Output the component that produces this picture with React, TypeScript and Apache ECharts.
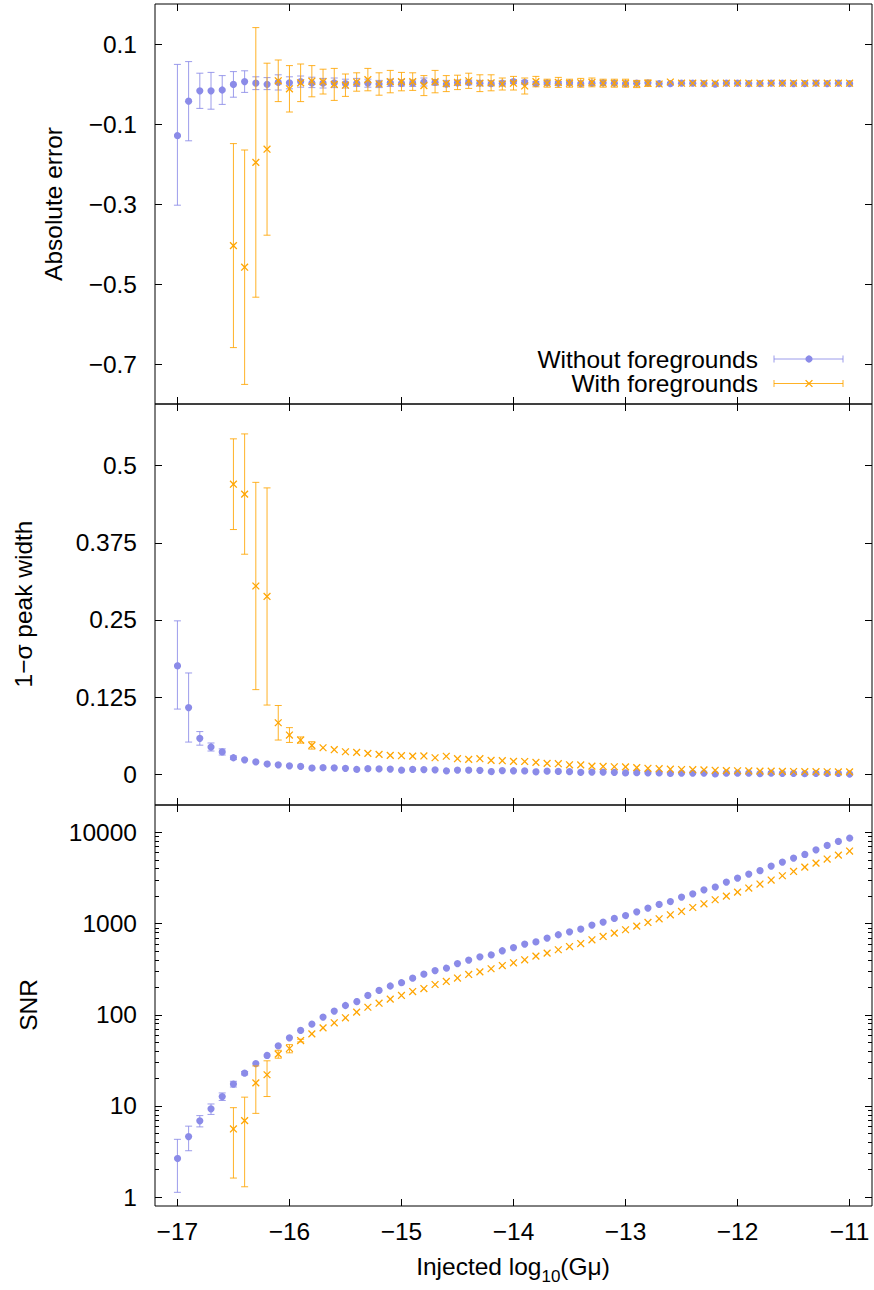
import { useEffect, useRef } from "react";
import * as echarts from "echarts";

// ---------- data ----------
const xValues = [
  -17.0, -16.9, -16.8, -16.7, -16.6, -16.5, -16.4, -16.3, -16.2, -16.1,
  -16.0, -15.9, -15.8, -15.7, -15.6, -15.5, -15.4, -15.3, -15.2, -15.1,
  -15.0, -14.9, -14.8, -14.7, -14.6, -14.5, -14.4, -14.3, -14.2, -14.1,
  -14.0, -13.9, -13.8, -13.7, -13.6, -13.5, -13.4, -13.3, -13.2, -13.1,
  -13.0, -12.9, -12.8, -12.7, -12.6, -12.5, -12.4, -12.3, -12.2, -12.1,
  -12.0, -11.9, -11.8, -11.7, -11.6, -11.5, -11.4, -11.3, -11.2, -11.1,
  -11.0,
];

// Panel 1: absolute error
const absErrNoFg = [
  -0.127, -0.043, -0.017, -0.017, -0.015, -0.001, 0.006, 0.002, 0.001, 0.004,
  0.003, 0.006, 0.004, 0.002, 0.003, 0.001, 0.004, 0.002, 0.0, 0.003,
  0.003, 0.002, 0.005, 0.004, 0.002, 0.003, 0.004, 0.002, 0.003, 0.002,
  0.006, 0.004, 0.002, 0.003, 0.002, 0.003, 0.002, 0.002, 0.003, 0.002,
  0.002, 0.002, 0.003, 0.001, 0.002, 0.002, 0.002, 0.001, 0.002, 0.002,
  0.002, 0.001, 0.002, 0.002, 0.002, 0.001, 0.002, 0.002, 0.001, 0.002,
  0.002,
];
const absErrNoFgSigma = [
  0.176, 0.099, 0.044, 0.046, 0.036, 0.032, 0.027, 0.016, 0.015, 0.019,
  0.015, 0.014, 0.013, 0.012, 0.012, 0.011, 0.01, 0.01, 0.009, 0.009,
  0.008, 0.008, 0.01, 0.007, 0.007, 0.006, 0.006, 0.006, 0.005, 0.005,
  0.005, 0.005, 0.004, 0.004, 0.004, 0.004, 0.003, 0.003, 0.003, 0.003,
  0.003, 0.002, 0.002, 0.002, 0.002, 0.002, 0.002, 0.002, 0.002, 0.002,
  0.001, 0.001, 0.001, 0.001, 0.001, 0.001, 0.001, 0.001, 0.001, 0.001,
  0.001,
];
const absErrFg = [
  null, null, null, null, null, -0.404, -0.458, -0.196, -0.163, 0.008,
  -0.012, 0.003, 0.007, 0.006, -0.001, -0.003, 0.005, 0.011, 0.0, 0.006,
  0.006, 0.006, -0.004, 0.006, 0.001, 0.004, 0.008, 0.002, 0.003, 0.0,
  0.002, -0.005, 0.006, 0.002, 0.004, 0.002, 0.003, 0.004, 0.002, 0.002,
  0.002, 0.0, 0.002, 0.0, 0.005, 0.002, 0.002, 0.002, 0.002, 0.002,
  0.002, 0.002, 0.002, 0.002, 0.002, 0.002, 0.002, 0.002, 0.002, 0.002,
  0.002,
];
const absErrFgSigma = [
  null, null, null, null, null, 0.255, 0.293, 0.337, 0.215, 0.052,
  0.058, 0.047, 0.039, 0.031, 0.04, 0.028, 0.023, 0.028, 0.028, 0.028,
  0.023, 0.022, 0.025, 0.028, 0.02, 0.018, 0.019, 0.021, 0.02, 0.015,
  0.017, 0.02, 0.013, 0.01, 0.0125, 0.01, 0.011, 0.011, 0.01, 0.01,
  0.01, 0.009, 0.008, 0.003, 0.003, 0.003, 0.002, 0.002, 0.002, 0.002,
  0.002, 0.002, 0.002, 0.002, 0.002, 0.002, 0.002, 0.002, 0.002, 0.002,
  0.002,
];

// Panel 2: 1-sigma peak width
const widthNoFg = [
  0.177, 0.108, 0.058, 0.044, 0.036, 0.0266, 0.0233, 0.02, 0.018, 0.0152,
  0.0136, 0.0126, 0.0115, 0.0104, 0.0102, 0.0094, 0.0092, 0.0088, 0.0085, 0.0082,
  0.0078, 0.0077, 0.0075, 0.0071, 0.007, 0.0066, 0.0065, 0.0063, 0.006, 0.0058,
  0.0055, 0.0053, 0.005, 0.0048, 0.0044, 0.004, 0.0039, 0.0034, 0.0033, 0.0029,
  0.0027, 0.0023, 0.0021, 0.002, 0.0019, 0.0018, 0.0018, 0.0017, 0.0017, 0.0016,
  0.0016, 0.0015, 0.0015, 0.0015, 0.0014, 0.0014, 0.0014, 0.0013, 0.0013, 0.0013,
  0.0012,
];
const widthNoFgSigma = [
  0.0715, 0.056, 0.011, 0.0065, 0.005, 0.003, 0.002, 0.0015, 0.001, 0.001,
  0.001, 0.001, 0.001, 0.001, 0.001, 0.001, 0.001, 0.001, 0.001, 0.001,
  0.0008, 0.0008, 0.0008, 0.0008, 0.0008, 0.0008, 0.0008, 0.0008, 0.0008, 0.0008,
  0.0006, 0.0006, 0.0006, 0.0006, 0.0006, 0.0006, 0.0006, 0.0006, 0.0006, 0.0006,
  0.0005, 0.0005, 0.0005, 0.0005, 0.0005, 0.0005, 0.0005, 0.0005, 0.0005, 0.0005,
  0.0004, 0.0004, 0.0004, 0.0004, 0.0004, 0.0004, 0.0004, 0.0004, 0.0004, 0.0004,
  0.0004,
];
const widthFg = [
  null, null, null, null, null, 0.47, 0.454, 0.305, 0.288, 0.0833,
  0.0634, 0.0553, 0.0466, 0.0428, 0.0396, 0.0363, 0.0353, 0.0337, 0.032, 0.0304,
  0.0299, 0.0293, 0.0295, 0.0266, 0.029, 0.025, 0.0239, 0.025, 0.0223, 0.0218,
  0.0207, 0.0205, 0.019, 0.0174, 0.0169, 0.0152, 0.015, 0.0131, 0.0125, 0.012,
  0.0118, 0.0105, 0.0095, 0.0088, 0.008, 0.0075, 0.0072, 0.0068, 0.0063, 0.0058,
  0.0055, 0.0052, 0.005, 0.0048, 0.0045, 0.0043, 0.004, 0.004, 0.0038, 0.0037,
  0.0036,
];
const widthFgSigma = [
  null, null, null, null, null, 0.0735, 0.0975, 0.168, 0.176, 0.028,
  0.012, 0.005, 0.006, 0.002, 0.0015, 0.0015, 0.0015, 0.001, 0.001, 0.001,
  0.001, 0.001, 0.001, 0.001, 0.001, 0.001, 0.001, 0.001, 0.001, 0.001,
  0.0008, 0.0008, 0.0008, 0.0008, 0.0008, 0.0008, 0.0008, 0.0008, 0.0008, 0.0008,
  0.0006, 0.0006, 0.0006, 0.0006, 0.0006, 0.0006, 0.0006, 0.0006, 0.0006, 0.0006,
  0.0005, 0.0005, 0.0005, 0.0005, 0.0005, 0.0005, 0.0005, 0.0005, 0.0005, 0.0005,
  0.0005,
];

// Panel 3: SNR
const snrNoFg = [
  2.72, 4.62, 6.87, 9.3, 12.7, 17.4, 22.9, 29.2, 36.4, 45.7,
  56.0, 67.3, 80.4, 94.4, 109.9, 126.5, 143.6, 163, 185, 207,
  230, 252, 279, 306, 334, 365, 398, 433, 467, 504,
  547, 597, 637, 694, 755, 814, 885, 964, 1040, 1140,
  1241, 1349, 1482, 1622, 1767, 1956, 2125, 2351, 2582, 2857,
  3162, 3497, 3868, 4277, 4730, 5236, 5836, 6457, 7198, 7966,
  8817,
];
const snrNoFgSigma = [
  1.59, 1.39, 0.97, 1.22, 1.2, 1.25, 1.0, 0.8, 0.8, 0.8,
  0.9, 0.9, 1.0, 1.0, 1.1, 1.1, 1.2, 1.2, 1.3, 1.3,
  1.4, 1.4, 1.5, 1.5, 1.6, 1.6, 1.7, 1.7, 1.8, 1.8,
  1.9, 1.9, 2.0, 2.0, 2.1, 2.1, 2.2, 2.2, 2.3, 2.3,
  2.4, 2.4, 2.5, 2.5, 2.6, 2.6, 2.7, 2.7, 2.8, 2.8,
  2.9, 2.9, 3.0, 3.0, 3.1, 3.1, 3.2, 3.2, 3.3, 3.3,
  3.4,
];
const snrFg = [
  null, null, null, null, null, 5.6, 6.9, 17.9, 22.0, 37.1,
  42.7, 52.2, 61.8, 71.9, 81.7, 92.7, 107, 121, 134, 148.6,
  163, 180, 194, 215, 232, 253, 277, 296, 320, 347,
  372, 401, 440, 475, 517, 561, 605, 665, 723, 787,
  857, 940, 1030, 1130, 1250, 1359, 1503, 1651, 1827, 2005,
  2218, 2455, 2716, 3005, 3350, 3733, 4169, 4615, 5106, 5648,
  6252,
];
const snrFgSigma = [
  null, null, null, null, null, 3.98, 5.6, 9.6, 9.3, 3.7,
  4.4, 1.8, 1.5, 1.4, 1.4, 1.5, 1.5, 1.6, 1.6, 1.7,
  1.7, 1.8, 1.8, 1.9, 1.9, 2.0, 2.0, 2.1, 2.1, 2.2,
  2.2, 2.3, 2.3, 2.4, 2.4, 2.5, 2.5, 2.6, 2.6, 2.7,
  2.7, 2.8, 2.8, 2.9, 2.9, 3.0, 3.0, 3.1, 3.1, 3.2,
  3.2, 3.3, 3.3, 3.4, 3.4, 3.5, 3.5, 3.6, 3.6, 3.7,
  3.7,
];

// ticks
const xTicks = [-17, -16, -15, -14, -13, -12, -11];
const absTicks = [0.1, -0.1, -0.3, -0.5, -0.7];
const widthTicks = [0, 0.125, 0.25, 0.375, 0.5];
const snrTicks = [1, 10, 100, 1000, 10000];
const snrMinorTicks = [
  2, 3, 4, 5, 6, 7, 8, 9,
  20, 30, 40, 50, 60, 70, 80, 90,
  200, 300, 400, 500, 600, 700, 800, 900,
  2000, 3000, 4000, 5000, 6000, 7000, 8000, 9000,
];

const legendLabels = ["Without foregrounds", "With foregrounds"];

// ---------- style ----------
const PURPLE = "#8b8be8";
const ORANGE = "#ffa500";
const FONT = "'Liberation Sans', Arial, Helvetica, sans-serif";
const FS = 24.5;
const X_MIN = -17.2;
const X_MAX = -10.8;
const SNR_MIN = 0.8;
const SNR_MAX = 20000;

function minusFmt(v: number): string {
  const r = Math.round(v * 1000) / 1000;
  const s = String(Math.abs(r));
  return r < 0 ? "\u2212" + s : s;
}

function buildSeries(
  vals: (number | null)[],
  sig: (number | null)[],
  color: string,
  kind: "circle" | "cross",
  xIdx: number,
  yIdx: number,
  logY: boolean
) {
  const data: number[][] = [];
  xValues.forEach((x, i) => {
    const v = vals[i];
    if (v == null) return;
    const s = sig[i] ?? 0;
    if (logY) {
      data.push([x, Math.log10(v), Math.log10(Math.max(v - s, 1e-3)), Math.log10(v + s)]);
    } else {
      data.push([x, v, v - s, v + s]);
    }
  });
  return {
    type: "custom",
    xAxisIndex: xIdx,
    yAxisIndex: yIdx,
    data,
    clip: true,
    silent: true,
    z: kind === "cross" ? 4 : 3,
    encode: { x: 0, y: 1 },
    renderItem: (_params: any, api: any) => {
      const x = api.value(0);
      const y = api.value(1);
      const lo = api.value(2);
      const hi = api.value(3);
      const p = api.coord([x, y]);
      const pl = api.coord([x, lo]);
      const ph = api.coord([x, hi]);
      const cx = p[0];
      const cy = p[1];
      const children: any[] = [];
      if (Math.abs(pl[1] - ph[1]) > 2.5) {
        const ls = { stroke: color, lineWidth: 1, opacity: 0.85 };
        const c = 3.5;
        children.push({ type: "line", shape: { x1: cx, y1: pl[1], x2: cx, y2: ph[1] }, style: ls });
        children.push({ type: "line", shape: { x1: cx - c, y1: pl[1], x2: cx + c, y2: pl[1] }, style: ls });
        children.push({ type: "line", shape: { x1: cx - c, y1: ph[1], x2: cx + c, y2: ph[1] }, style: ls });
      }
      if (kind === "circle") {
        children.push({ type: "circle", shape: { cx, cy, r: 3.6 }, style: { fill: color } });
      } else {
        const d = 3.4;
        const cs = { stroke: color, lineWidth: 1.3 };
        children.push({ type: "line", shape: { x1: cx - d, y1: cy - d, x2: cx + d, y2: cy + d }, style: cs });
        children.push({ type: "line", shape: { x1: cx - d, y1: cy + d, x2: cx + d, y2: cy - d }, style: cs });
      }
      return { type: "group", children };
    },
  };
}

const GRID_LEFT = 155;
const GRID_W = 717;
const panels = [
  { top: 4, height: 400 },
  { top: 404, height: 401 },
  { top: 805, height: 401 },
];

function tickAxis(base: any, custom: number[], len: number) {
  return {
    ...base,
    axisLine: { show: false, onZero: false },
    splitLine: { show: false },
    axisTick: {
      show: true,
      inside: true,
      length: len,
      customValues: custom,
      lineStyle: { color: "#000", width: 1 },
    },
  };
}

const labelStyle = { fontSize: FS, color: "#000", fontFamily: FONT };

export default function App() {
  const ref = useRef<HTMLDivElement>(null);

  useEffect(() => {
    if (!ref.current) return;
    const chart = echarts.init(ref.current, undefined, { renderer: "svg" });

    const grid = panels.map((p) => ({
      left: GRID_LEFT,
      top: p.top,
      width: GRID_W,
      height: p.height,
      show: true,
      borderColor: "#000",
      borderWidth: 1,
      backgroundColor: "transparent",
      containLabel: false,
      outerBoundsMode: "none",
    }));

    const xAxis: any[] = [];
    panels.forEach((_p, g) => {
      xAxis.push(
        tickAxis(
          {
            gridIndex: g,
            type: "value",
            min: X_MIN,
            max: X_MAX,
            position: "bottom",
            axisLabel: {
              show: g === 2,
              customValues: xTicks,
              formatter: (v: number) => minusFmt(v),
              margin: 13,
              ...labelStyle,
            },
          },
          xTicks,
          7
        )
      );
      xAxis.push(
        tickAxis(
          { gridIndex: g, type: "value", min: X_MIN, max: X_MAX, position: "top", axisLabel: { show: false } },
          xTicks,
          7
        )
      );
    });

    const snrLog = snrTicks.map((v) => Math.log10(v));
    const snrMinorLog = snrMinorTicks.map((v) => Math.log10(v));
    const yDefs = [
      { g: 0, min: -0.8, max: 0.2, ticks: absTicks, fmt: (v: number) => minusFmt(v) },
      { g: 1, min: -0.05, max: 0.6, ticks: widthTicks, fmt: (v: number) => minusFmt(v) },
      {
        g: 2,
        min: Math.log10(SNR_MIN),
        max: Math.log10(SNR_MAX),
        ticks: snrLog,
        fmt: (v: number) => String(Math.round(Math.pow(10, v))),
      },
    ];
    const yAxis: any[] = [];
    yDefs.forEach((d) => {
      yAxis.push(
        tickAxis(
          {
            gridIndex: d.g,
            type: "value",
            min: d.min,
            max: d.max,
            position: "left",
            axisLabel: { show: true, customValues: d.ticks, formatter: d.fmt, margin: 18, ...labelStyle },
          },
          d.ticks,
          7
        )
      );
      yAxis.push(
        tickAxis(
          { gridIndex: d.g, type: "value", min: d.min, max: d.max, position: "right", axisLabel: { show: false } },
          d.ticks,
          7
        )
      );
    });
    // minor log ticks on panel 3 (indices 6, 7)
    ["left", "right"].forEach((pos) => {
      yAxis.push(
        tickAxis(
          {
            gridIndex: 2,
            type: "value",
            min: Math.log10(SNR_MIN),
            max: Math.log10(SNR_MAX),
            position: pos,
            axisLabel: { show: false },
          },
          snrMinorLog,
          4
        )
      );
    });

    const series = [
      buildSeries(absErrNoFg, absErrNoFgSigma, PURPLE, "circle", 0, 0, false),
      buildSeries(absErrFg, absErrFgSigma, ORANGE, "cross", 0, 0, false),
      buildSeries(widthNoFg, widthNoFgSigma, PURPLE, "circle", 2, 2, false),
      buildSeries(widthFg, widthFgSigma, ORANGE, "cross", 2, 2, false),
      buildSeries(snrNoFg, snrNoFgSigma, PURPLE, "circle", 4, 4, true),
      buildSeries(snrFg, snrFgSigma, ORANGE, "cross", 4, 4, true),
    ];

    // legend (gnuplot style key)
    const keyX1 = 774;
    const keyX2 = 843;
    const keyMid = 809;
    const rows = [
      { y: 359, color: PURPLE, kind: "circle" },
      { y: 383.5, color: ORANGE, kind: "cross" },
    ];
    const legendEls: any[] = [];
    rows.forEach((r, i) => {
      legendEls.push({
        type: "text",
        x: 758,
        y: r.y,
        style: {
          text: legendLabels[i],
          fill: "#000",
          fontSize: FS,
          fontFamily: FONT,
          align: "right",
          verticalAlign: "middle",
        },
      });
      const ls = { stroke: r.color, lineWidth: 1, opacity: 0.85 };
      legendEls.push({ type: "line", shape: { x1: keyX1, y1: r.y, x2: keyX2, y2: r.y }, style: ls });
      legendEls.push({ type: "line", shape: { x1: keyX1, y1: r.y - 3.5, x2: keyX1, y2: r.y + 3.5 }, style: ls });
      legendEls.push({ type: "line", shape: { x1: keyX2, y1: r.y - 3.5, x2: keyX2, y2: r.y + 3.5 }, style: ls });
      if (r.kind === "circle") {
        legendEls.push({ type: "circle", shape: { cx: keyMid, cy: r.y, r: 3.6 }, style: { fill: r.color } });
      } else {
        const d = 3.4;
        const cs = { stroke: r.color, lineWidth: 1.3 };
        legendEls.push({ type: "line", shape: { x1: keyMid - d, y1: r.y - d, x2: keyMid + d, y2: r.y + d }, style: cs });
        legendEls.push({ type: "line", shape: { x1: keyMid - d, y1: r.y + d, x2: keyMid + d, y2: r.y - d }, style: cs });
      }
    });

    const yName = (text: string, x: number, y: number) => ({
      type: "text",
      x,
      y,
      rotation: Math.PI / 2,
      style: {
        text,
        fill: "#000",
        fontSize: FS,
        fontFamily: FONT,
        align: "center",
        verticalAlign: "middle",
      },
    });

    const graphic = [
      ...legendEls,
      yName("Absolute error", 53, 204),
      yName("1\u2212\u03c3 peak width", 23, 604),
      yName("SNR", 28, 1005),
      {
        type: "text",
        x: 513,
        y: 1254,
        style: {
          text: "{a|Injected log}{s|10}{a|(G\u03bc)}",
          fill: "#000",
          align: "center",
          verticalAlign: "top",
          rich: {
            a: { fontSize: FS, fontFamily: FONT, lineHeight: 28, verticalAlign: "top", fill: "#000" },
            s: {
              fontSize: 17,
              fontFamily: FONT,
              lineHeight: 18,
              verticalAlign: "top",
              padding: [14, 0, 0, 0],
              fill: "#000",
            },
          },
        },
      },
    ];

    chart.setOption({
      animation: false,
      backgroundColor: "#fff",
      grid,
      xAxis,
      yAxis,
      series,
      graphic,
    });

    return () => chart.dispose();
  }, []);

  return (
    <div
      ref={ref}
      style={{ position: "absolute", left: 0, top: 0, width: 874, height: 1290 }}
    />
  );
}
